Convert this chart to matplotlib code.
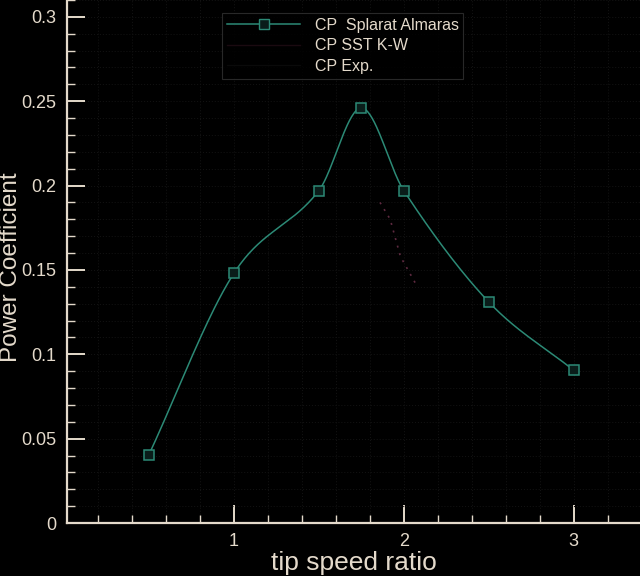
import numpy as np
import matplotlib
matplotlib.use('Agg')
import matplotlib.pyplot as plt
from matplotlib.ticker import MultipleLocator
from matplotlib.lines import Line2D

# Spalart Allmaras power coefficient vs tip speed ratio
tsr = [0.5, 1.0, 1.5, 1.75, 2.0, 2.5, 3.0]
cp_sa = [0.0405, 0.148, 0.197, 0.246, 0.197, 0.131, 0.0905]

# faint SST K-W segment (barely visible on the dark background)
sst_x = [1.86, 1.92, 1.98, 2.08]
sst_y = [0.190, 0.180, 0.158, 0.140]

fg = '#e4dacb'
teal = '#2c8a76'

def smooth(x, y, n=40):
    # cubic hermite through the points, slopes from neighbours
    x = np.asarray(x, float)
    y = np.asarray(y, float)
    m = np.zeros_like(y)
    m[1:-1] = (y[2:] - y[:-2]) / (x[2:] - x[:-2])
    m[0] = (y[1] - y[0]) / (x[1] - x[0])
    m[-1] = (y[-1] - y[-2]) / (x[-1] - x[-2])
    xs, ys = [], []
    for i in range(len(x) - 1):
        h = x[i+1] - x[i]
        t = np.linspace(0, 1, n)
        h00 = 2*t**3 - 3*t**2 + 1
        h10 = t**3 - 2*t**2 + t
        h01 = -2*t**3 + 3*t**2
        h11 = t**3 - t**2
        xs.append(x[i] + t*h)
        ys.append(h00*y[i] + h10*h*m[i] + h01*y[i+1] + h11*h*m[i+1])
    return np.concatenate(xs), np.concatenate(ys)

plt.rcParams['font.family'] = ['Liberation Sans', 'DejaVu Sans']

fig = plt.figure(figsize=(6.4, 5.76), dpi=100, facecolor='black')
ax = fig.add_axes([67/640, 53/576, 1 - 67/640, 1 - 53/576])
ax.set_facecolor('black')

sx, sy = smooth(tsr, cp_sa)
ax.plot(sx, sy, color=teal, lw=1.1, zorder=3)
ax.plot(tsr, cp_sa, ls='none', marker='s', ms=7.5, mfc='#0a1d1a',
        mec=teal, mew=1.1, zorder=4)
ax.plot(sst_x, sst_y, color='#5e2a40', lw=1.2, ls=(0, (1.2, 3.5)), zorder=2)

ax.set_xlim(0.018, 3.39)
ax.set_ylim(0, 0.31)

ax.xaxis.set_major_locator(MultipleLocator(1))
ax.xaxis.set_minor_locator(MultipleLocator(0.2))
ax.yaxis.set_major_locator(MultipleLocator(0.05))
ax.yaxis.set_minor_locator(MultipleLocator(0.01))
ax.set_yticks([0, 0.05, 0.1, 0.15, 0.2, 0.25, 0.3])
ax.set_yticklabels(['0', '0.05', '0.1', '0.15', '0.2', '0.25', '0.3'])

ax.tick_params(which='both', direction='in', colors=fg, labelsize=13)
ax.tick_params(which='major', length=13, width=1.4)
ax.tick_params(which='minor', length=6, width=1.0)
ax.tick_params(axis='y', pad=8)
ax.tick_params(axis='x', pad=7)

ax.grid(True, which='both', color='#111111', ls=':', lw=0.8)
ax.set_axisbelow(True)

for s in ['top', 'right']:
    ax.spines[s].set_visible(False)
for s in ['left', 'bottom']:
    ax.spines[s].set_color(fg)
    ax.spines[s].set_linewidth(1.6)

ax.set_xlabel('tip speed ratio', color=fg, fontsize=19, labelpad=1)
ax.set_ylabel('Power Coefficient', color=fg, fontsize=17.5)
ax.yaxis.set_label_coords((22 - 67) / 573, 0.49)

handles = [
    Line2D([], [], color=teal, lw=1.1, marker='s', ms=7, mfc='#0a1d1a', mec=teal),
    Line2D([], [], color='#1a0a10', lw=1.0),
    Line2D([], [], color='#0a0a0a', lw=1.0),
]
labels = ['CP  Splarat Almaras', 'CP SST K-W', 'CP Exp.']
leg = ax.legend(handles, labels, loc='upper left',
                bbox_to_anchor=((222 - 67) / 573, 1 - 13 / 523),
                fontsize=11.5, labelspacing=0.35, handlelength=4.6,
                handletextpad=0.9, borderpad=0.3, borderaxespad=0,
                frameon=True, fancybox=False, facecolor='black',
                edgecolor='#333333')
leg.get_frame().set_linewidth(0.8)
for t in leg.get_texts():
    t.set_color(fg)

fig.savefig('out.png', dpi=100, facecolor='black')
